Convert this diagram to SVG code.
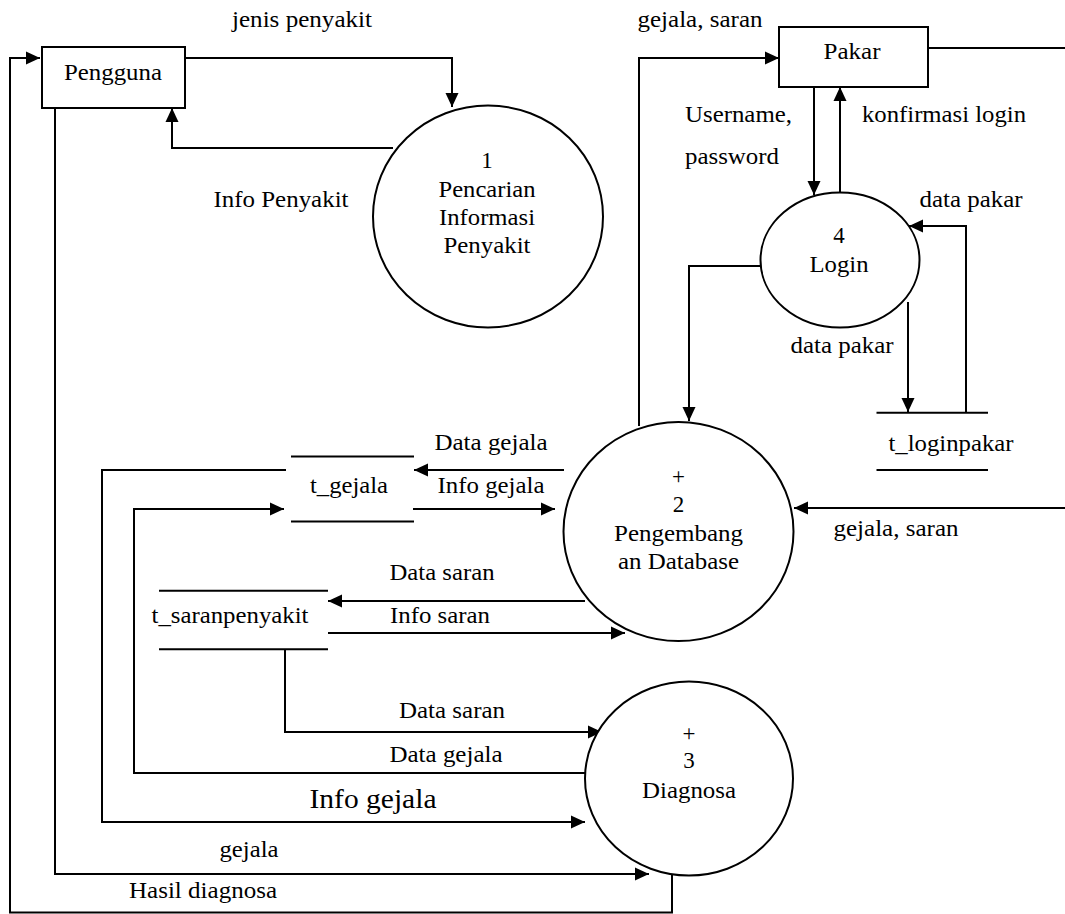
<svg xmlns="http://www.w3.org/2000/svg" width="1065" height="914" viewBox="0 0 1065 914">
<style>
text{font-family:'Liberation Serif','DejaVu Serif',serif;font-size:23px;fill:#000;text-anchor:middle}
.st{text-anchor:start}
.big{font-size:27px}
.shape{fill:#fff;stroke:#000;stroke-width:2}
.store{stroke:#000;stroke-width:2}
.c{fill:none;stroke:#000;stroke-width:2}
.a{marker-end:url(#arr)}
</style>
<defs>
<marker id="arr" markerWidth="14" markerHeight="14" refX="14" refY="7" orient="auto" markerUnits="userSpaceOnUse">
<path d="M0,0.5 L14,7 L0,13.5 z" fill="#000"/>
</marker>
</defs>
<rect width="1065" height="914" fill="#fff"/>

<g id="connectors">
<path class="c a" d="M185,58 H452 V107"/>
<path class="c a" d="M393,148 H172 V108"/>
<path class="c a" d="M672,873 V912.5 H10 V58 H40"/>
<path class="c a" d="M55,108 V874 H649"/>
<path class="c a" d="M639,426 V58 H779"/>
<path class="c a" d="M814,87 V195"/>
<path class="c a" d="M840,193 V87"/>
<path class="c a" d="M966,413 V226 H909"/>
<path class="c a" d="M760,266 H689 V421"/>
<path class="c a" d="M908,302 V412"/>
<path class="c a" d="M928,48 H1075 V508 H794"/>
<path class="c a" d="M564,470 H414"/>
<path class="c a" d="M413,509 H555"/>
<path class="c a" d="M286,470 H102 V822 H585"/>
<path class="c a" d="M587,773 H134 V509 H284"/>
<path class="c a" d="M585,601 H328"/>
<path class="c a" d="M328,633 H625"/>
<path class="c a" d="M285,649 V732 H602"/>
</g>

<g id="labels">
<text x="302" y="27" textLength="140" lengthAdjust="spacingAndGlyphs">jenis penyakit</text>
<text x="281" y="207" textLength="135" lengthAdjust="spacingAndGlyphs">Info Penyakit</text>
<text x="700" y="27" textLength="125" lengthAdjust="spacingAndGlyphs">gejala, saran</text>
<text class="st" x="685" y="122" textLength="107" lengthAdjust="spacingAndGlyphs">Username,</text>
<text class="st" x="685" y="164" textLength="94" lengthAdjust="spacingAndGlyphs">password</text>
<text class="st" x="862" y="122" textLength="164" lengthAdjust="spacingAndGlyphs">konfirmasi login</text>
<text x="971" y="207" textLength="103" lengthAdjust="spacingAndGlyphs">data pakar</text>
<text x="842" y="353" textLength="103" lengthAdjust="spacingAndGlyphs">data pakar</text>
<text x="896" y="536" textLength="125" lengthAdjust="spacingAndGlyphs">gejala, saran</text>
<text x="491" y="450" textLength="113" lengthAdjust="spacingAndGlyphs">Data gejala</text>
<text x="491" y="493" textLength="107" lengthAdjust="spacingAndGlyphs">Info gejala</text>
<text x="442" y="580" textLength="105" lengthAdjust="spacingAndGlyphs">Data saran</text>
<text x="440" y="623" textLength="100" lengthAdjust="spacingAndGlyphs">Info saran</text>
<text x="452" y="718" textLength="106" lengthAdjust="spacingAndGlyphs">Data saran</text>
<text x="446" y="762" textLength="113" lengthAdjust="spacingAndGlyphs">Data gejala</text>
<text class="big" x="373" y="808" textLength="127" lengthAdjust="spacingAndGlyphs">Info gejala</text>
<text x="249" y="857" textLength="59" lengthAdjust="spacingAndGlyphs">gejala</text>
<text x="203" y="898" textLength="148" lengthAdjust="spacingAndGlyphs">Hasil diagnosa</text>
</g>

<g id="pengguna">
<rect class="shape" x="42" y="47" width="143" height="61"/>
<text x="113" y="80" textLength="98" lengthAdjust="spacingAndGlyphs">Pengguna</text>
</g>

<g id="pakar">
<rect class="shape" x="779" y="27" width="149" height="60"/>
<text x="852" y="59" textLength="57" lengthAdjust="spacingAndGlyphs">Pakar</text>
</g>

<g id="proses1">
<ellipse class="shape" cx="488" cy="216.5" rx="115" ry="111"/>
<text x="487" y="168">1</text>
<text x="487" y="197" textLength="97" lengthAdjust="spacingAndGlyphs">Pencarian</text>
<text x="487" y="225" textLength="96" lengthAdjust="spacingAndGlyphs">Informasi</text>
<text x="487" y="253" textLength="87" lengthAdjust="spacingAndGlyphs">Penyakit</text>
</g>

<g id="proses4">
<ellipse class="shape" cx="840" cy="260" rx="79.5" ry="67.5"/>
<text x="839" y="243">4</text>
<text x="839" y="272" textLength="59" lengthAdjust="spacingAndGlyphs">Login</text>
</g>

<g id="proses2">
<ellipse class="shape" cx="678.5" cy="531.5" rx="115" ry="109.5"/>
<text x="678.5" y="484">+</text>
<text x="678.5" y="512">2</text>
<text x="678.5" y="541" textLength="129" lengthAdjust="spacingAndGlyphs">Pengembang</text>
<text x="678.5" y="569" textLength="121" lengthAdjust="spacingAndGlyphs">an Database</text>
</g>

<g id="proses3">
<ellipse class="shape" cx="689" cy="778.5" rx="104" ry="97"/>
<text x="689" y="741">+</text>
<text x="689" y="768">3</text>
<text x="689" y="798" textLength="94" lengthAdjust="spacingAndGlyphs">Diagnosa</text>
</g>

<g id="t_loginpakar">
<line class="store" x1="876.5" y1="412.7" x2="988" y2="412.7"/>
<line class="store" x1="876.5" y1="470" x2="988" y2="470"/>
<text x="951" y="451" textLength="125" lengthAdjust="spacingAndGlyphs">t_loginpakar</text>
</g>

<g id="t_gejala">
<line class="store" x1="291" y1="456.5" x2="414" y2="456.5"/>
<line class="store" x1="291" y1="521.5" x2="414" y2="521.5"/>
<text x="349" y="493" textLength="78" lengthAdjust="spacingAndGlyphs">t_gejala</text>
</g>

<g id="t_saranpenyakit">
<line class="store" x1="159" y1="590.7" x2="328" y2="590.7"/>
<line class="store" x1="159" y1="649.3" x2="328" y2="649.3"/>
<text x="230" y="623" textLength="157" lengthAdjust="spacingAndGlyphs">t_saranpenyakit</text>
</g>
</svg>
